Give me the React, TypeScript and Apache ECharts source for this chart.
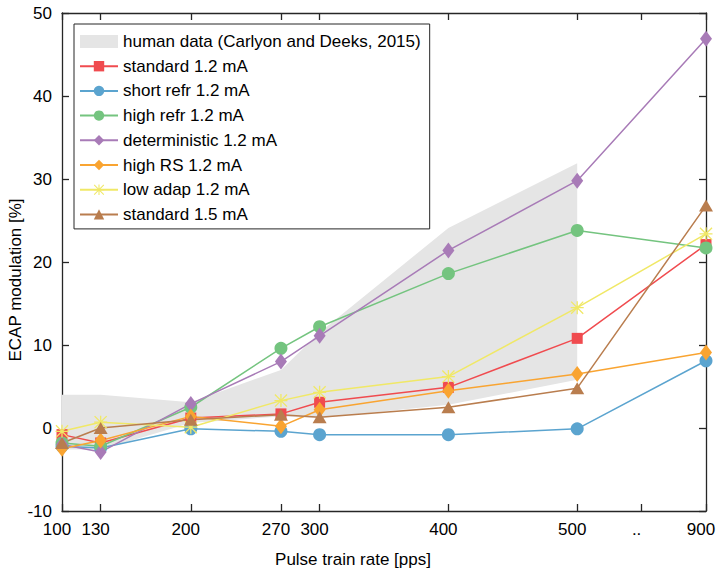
import React, { useEffect, useRef } from "react";
import * as echarts from "echarts";

// x positions on the axis (900 pps is drawn after the ".." break, at axis position 600)
const ratePositions = [100, 130, 200, 270, 300, 400, 500, 600];
const tickPositions = [100, 130, 200, 270, 300, 400, 500, 550, 600];
const tickLabels = ["100", "130", "200", "270", "300", "400", "500", "..", "900"];
const yTicks = [-10, 0, 10, 20, 30, 40, 50];

// human data band (100..500 pps)
const humanPositions = [100, 130, 200, 270, 300, 400, 500];
const humanUpper = [4.0, 4.0, 3.1, 7.0, 11.5, 24.1, 31.9];
const humanLower = [-2.6, -2.6, 0.6, 1.4, 1.2, 2.8, 5.8];

const standard12 = [-0.8, -1.8, 1.2, 1.7, 3.1, 4.9, 10.8, 22.1];
const shortRefr12 = [-2.2, -2.4, -0.1, -0.4, -0.8, -0.8, -0.1, 8.1];
const highRefr12 = [-1.8, -2.2, 2.5, 9.6, 12.2, 18.6, 23.8, 21.7];
const deterministic12 = [-2.0, -2.9, 2.9, 8.0, 11.1, 21.4, 29.8, 46.9];
const highRS12 = [-2.5, -1.5, 1.4, 0.2, 2.2, 4.5, 6.5, 9.1];
const lowAdap12 = [-0.4, 0.7, 0.1, 3.3, 4.3, 6.2, 14.5, 23.4];
const standard15 = [-1.8, 0.0, 1.0, 1.6, 1.3, 2.5, 4.8, 26.8];

const humanName = "human data (Carlyon and Deeks, 2015)";

const STAR =
  "path://M0,9 L20,9 L20,11 L0,11 Z M9,0 L11,0 L11,20 L9,20 Z M1.4,0 L20,18.6 L18.6,20 L0,1.4 Z M18.6,0 L20,1.4 L1.4,20 L0,18.6 Z";

const FONT = "Liberation Sans, Arial, Helvetica, sans-serif";
const AXIS_COLOR = "#262626";
const BAND_COLOR = "#e5e5e5";

const modelSeries = [
  { name: "standard 1.2 mA", data: standard12, color: "#f04b4f", symbol: "rect", size: 11 },
  { name: "short refr 1.2 mA", data: shortRefr12, color: "#5ba4cf", symbol: "circle", size: 13 },
  { name: "high refr 1.2 mA", data: highRefr12, color: "#74c47f", symbol: "circle", size: 13 },
  { name: "deterministic 1.2 mA", data: deterministic12, color: "#a87bb7", symbol: "diamond", size: [12, 16] },
  { name: "high RS 1.2 mA", data: highRS12, color: "#f9a431", symbol: "diamond", size: [12, 16] },
  { name: "low adap 1.2 mA", data: lowAdap12, color: "#f0e866", symbol: STAR, size: 13 },
  { name: "standard 1.5 mA", data: standard15, color: "#b97d4e", symbol: "triangle", size: [14, 12] },
];

function labelFor(v: number): string {
  const i = tickPositions.indexOf(v);
  return i >= 0 ? tickLabels[i] : "";
}

export default function App() {
  const ref = useRef<HTMLDivElement>(null);
  useEffect(() => {
    if (!ref.current) return;
    const chart = echarts.init(ref.current, undefined, { renderer: "svg" });
    const xCommon = {
      type: "value",
      min: 100,
      max: 600,
      splitLine: { show: false },
      axisLine: { show: true, onZero: false, lineStyle: { color: AXIS_COLOR, width: 1.3 } },
      axisTick: { show: true, inside: true, length: 7, customValues: tickPositions, lineStyle: { color: AXIS_COLOR, width: 1.3 } },
    };
    const yCommon = {
      type: "value",
      min: -10,
      max: 50,
      interval: 10,
      splitLine: { show: false },
      axisLine: { show: true, onZero: false, lineStyle: { color: AXIS_COLOR, width: 1.3 } },
      axisTick: { show: true, inside: true, length: 7, customValues: yTicks, lineStyle: { color: AXIS_COLOR, width: 1.3 } },
    };
    const bandData = humanPositions.map((x, i) => [x, humanLower[i], humanUpper[i]]);
    const series: any[] = [
      {
        type: "custom",
        name: humanName,
        data: bandData,
        encode: { x: 0, y: [1, 2] },
        itemStyle: { color: BAND_COLOR },
        silent: true,
        z: 1,
        renderItem: (params: any, api: any) => {
          if (params.dataIndex !== 0) return null;
          const upper = bandData.map((d) => api.coord([d[0], d[2]]));
          const lower = bandData.map((d) => api.coord([d[0], d[1]])).reverse();
          return {
            type: "polygon",
            shape: { points: upper.concat(lower) },
            style: { fill: BAND_COLOR, stroke: "none" },
            silent: true,
          };
        },
      },
      ...modelSeries.map((s) => ({
        type: "line",
        name: s.name,
        data: ratePositions.map((x, i) => [x, s.data[i]]),
        symbol: s.symbol,
        symbolSize: s.size,
        showAllSymbol: true,
        itemStyle: { color: s.color },
        lineStyle: { color: s.color, width: 1.5 },
        z: 3,
      })),
    ];
    chart.setOption({
      animation: false,
      backgroundColor: "#ffffff",
      textStyle: { fontFamily: FONT },
      grid: { left: 62, right: 10, top: 13, bottom: 57, containLabel: false, outerBoundsMode: "none" },
      xAxis: [
        {
          ...xCommon,
          position: "bottom",
          name: "Pulse train rate [pps]",
          nameLocation: "middle",
          nameGap: 40,
          nameMoveOverlap: false,
          nameTextStyle: { fontSize: 17, color: "#000", fontFamily: FONT, padding: [0, 62, 0, 0] },
          axisLabel: {
            show: true,
            customValues: tickPositions,
            formatter: (v: number) => labelFor(v),
            fontSize: 17,
            color: "#000",
            fontFamily: FONT,
            margin: 10,
            padding: [0, 10, 0, 0],
          },
        },
        {
          ...xCommon,
          position: "top",
          axisLabel: { show: false },
        },
      ],
      yAxis: [
        {
          ...yCommon,
          position: "left",
          name: "ECAP modulation [%]",
          nameLocation: "middle",
          nameGap: 38,
          nameMoveOverlap: false,
          nameTextStyle: { fontSize: 17, color: "#000", fontFamily: FONT, padding: [0, 36, 0, 0] },
          axisLabel: { show: true, customValues: yTicks, fontSize: 17, color: "#000", fontFamily: FONT, margin: 10 },
        },
        {
          ...yCommon,
          position: "right",
          axisLabel: { show: false },
        },
      ],
      legend: {
        show: true,
        orient: "vertical",
        left: 74,
        top: 24,
        padding: [9, 9, 6, 5],
        itemWidth: 38,
        itemHeight: 13,
        itemGap: 7.7,
        backgroundColor: "#ffffff",
        borderColor: AXIS_COLOR,
        borderWidth: 1,
        textStyle: { fontSize: 17, color: "#000", fontFamily: FONT, lineHeight: 17 },
        data: [
          { name: humanName, icon: "rect", itemStyle: { color: BAND_COLOR } },
          ...modelSeries.map((s) => ({ name: s.name })),
        ],
      },
      series,
    });
    return () => chart.dispose();
  }, []);
  return <div ref={ref} style={{ width: 716, height: 568, position: "absolute", left: 0, top: 0 }} />;
}
